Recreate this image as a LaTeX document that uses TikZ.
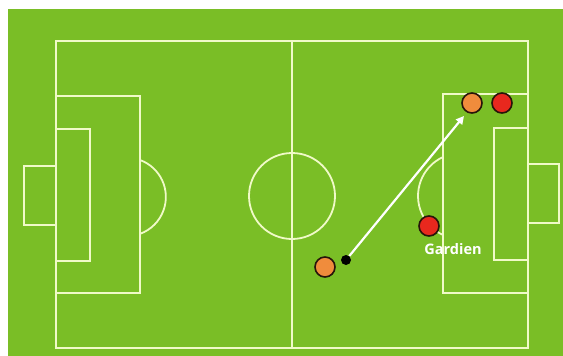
\documentclass[tikz,border=0pt]{standalone}
\usepackage{fontspec}
\setmainfont{Open Sans}
\usetikzlibrary{arrows.meta}
\definecolor{pitch}{RGB}{122,190,38}
\definecolor{chalk}{RGB}{240,250,200}
\definecolor{orangep}{RGB}{240,140,60}
\definecolor{redp}{RGB}{232,40,30}
\definecolor{rim}{RGB}{40,20,10}
\tikzset{
  line/.style={draw=chalk, line width=1.8pt},
  player/.style={circle, minimum size=20pt, inner sep=0pt, draw=rim, line width=1.6pt},
  attacker/.style={player, fill=orangep},
  defender/.style={player, fill=redp},
  ballnode/.style={circle, minimum size=10pt, inner sep=0pt, fill=black},
  pass/.style={draw=white, line width=2.2pt, -{Triangle[length=8pt,width=8pt]}}
}
\begin{document}
\begin{tikzpicture}[x=1pt,y=-1pt]
\useasboundingbox (0,0) rectangle (563,356);
\fill[white] (0,0) rectangle (563,356);
\fill[pitch] (8,9) rectangle (563,356);
% outer lines
\draw[line] (56,41) rectangle (528,348);
\draw[line] (292,41) -- (292,348);
\draw[line] (292,196) circle (43);
% left side
\draw[line] (56,96) rectangle (140,293);
\draw[line] (56,129) rectangle (90,261);
\draw[line] (56,166) -- (24,166) -- (24,225) -- (56,225);
\draw[line] (140,160) arc (-70:70:39.3);
% right side
\draw[line] (443,94) rectangle (528,293);
\draw[line] (494,128) rectangle (528,260);
\draw[line] (528,164) -- (559,164) -- (559,223) -- (528,223);
\draw[line] (443,157) arc (245.3:114.7:42.9);
% players
\node[attacker] (a1) at (472,103) {};
\node[defender] (d1) at (502,103) {};
\node[defender] (gk) at (429,226) {};
\node[attacker] (a2) at (325,267) {};
\node[ballnode] (ball) at (346,260) {};
\coordinate (target) at (464,116);
\draw[pass] (ball) -- (target);
\node[text=white, font=\fontseries{sb}\selectfont\fontsize{14.5}{16}\selectfont] (lab) at (453,249) {Gardien};
\end{tikzpicture}
\end{document}
